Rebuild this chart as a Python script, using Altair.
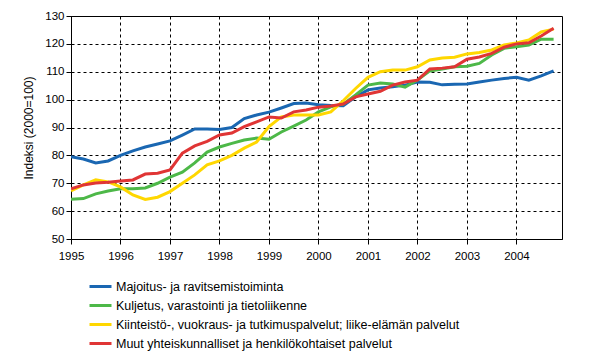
import altair as alt
import pandas as pd

years = [1995 + q * 0.25 for q in range(40)]

series_names = [
    "Majoitus- ja ravitsemistoiminta",
    "Kuljetus, varastointi ja tietoliikenne",
    "Kiinteistö-, vuokraus- ja tutkimuspalvelut; liike-elämän palvelut",
    "Muut yhteiskunnalliset ja henkilökohtaiset palvelut",
]
colors = ["#1a67b2", "#4db848", "#ffd700", "#e03535"]

majoitus = [79.5, 78.7, 77.3, 78.0, 80.0, 81.6, 83.0, 84.1, 85.2, 87.3,
            89.5, 89.5, 89.3, 90.0, 93.2, 94.5, 95.5, 97.0, 98.6, 98.8,
            98.2, 97.9, 97.8, 101.0, 103.5, 104.2, 104.6, 105.2, 106.3, 106.2,
            105.3, 105.5, 105.6, 106.3, 107.0, 107.6, 108.0, 107.0, 108.5, 110.3]
kuljetus = [64.3, 64.5, 66.2, 67.2, 68.0, 68.0, 68.3, 70.0, 72.2, 74.0,
            77.3, 81.2, 83.0, 84.3, 85.5, 86.2, 85.8, 88.4, 90.5, 92.7,
            95.6, 97.4, 98.4, 101.7, 105.2, 106.0, 105.6, 104.5, 107.0, 110.3,
            111.0, 111.8, 112.0, 113.0, 116.0, 118.4, 119.0, 119.6, 121.7, 121.7]
kiinteisto = [67.3, 69.4, 71.2, 70.5, 68.7, 65.8, 64.2, 65.0, 67.0, 70.0,
              73.0, 76.6, 78.0, 80.0, 82.6, 84.8, 90.3, 93.8, 94.5, 94.5,
              94.5, 95.6, 99.6, 104.0, 108.0, 110.0, 110.6, 110.6, 111.8, 114.2,
              114.9, 115.2, 116.4, 116.9, 117.8, 119.6, 120.3, 121.4, 124.3, 125.3]
muut = [68.0, 69.4, 70.1, 70.4, 70.8, 71.2, 73.3, 73.6, 74.8, 80.8,
        83.4, 85.0, 87.3, 88.0, 90.3, 92.0, 93.8, 93.4, 95.6, 96.3,
        97.3, 97.7, 98.4, 101.0, 102.0, 103.0, 105.2, 106.3, 107.0, 111.0,
        111.3, 111.8, 114.5, 115.3, 116.6, 118.8, 120.0, 120.4, 122.8, 125.6]

x_ticks = list(range(1995, 2005))
y_ticks = list(range(50, 131, 10))

rows = []
for name, vals in zip(series_names, [majoitus, kuljetus, kiinteisto, muut]):
    for i, (x, v) in enumerate(zip(years, vals)):
        rows.append({"vuosi": x, "arvo": v, "sarja": name, "order": i})
df = pd.DataFrame(rows)

FONT = "Liberation Sans"

chart = alt.Chart(df).mark_line(strokeWidth=3, clip=True).encode(
    x=alt.X("vuosi:Q",
            scale=alt.Scale(domain=[1995, 2004.92], nice=False, zero=False),
            axis=alt.Axis(values=x_ticks, format="d", title=None,
                          labelFlush=False, labelPadding=6)),
    y=alt.Y("arvo:Q",
            scale=alt.Scale(domain=[50, 130], nice=False, zero=False),
            axis=alt.Axis(values=y_ticks, title="Indeksi (2000=100)",
                          titlePadding=9, labelPadding=2)),
    color=alt.Color("sarja:N",
                    scale=alt.Scale(domain=series_names, range=colors),
                    sort=series_names,
                    legend=alt.Legend(title=None, orient="none",
                                      legendX=17, legendY=258,
                                      symbolType="stroke", symbolSize=484,
                                      symbolStrokeWidth=3, labelFontSize=12.5,
                                      labelFont=FONT, labelOffset=3,
                                      rowPadding=-7, labelLimit=400)),
    order="order:Q",
).properties(
    width=491, height=223,
    autosize=alt.AutoSizeParams(type="none"),
    padding={"left": 63, "top": 8, "right": 23, "bottom": 113},
).configure_view(
    stroke="black", strokeWidth=1
).configure_axis(
    grid=True, gridColor="black", gridDash=[3, 3], gridOpacity=1, gridWidth=1,
    domainColor="black", tickColor="black", tickSize=5,
    labelFont=FONT, labelFontSize=11.5, labelColor="black",
    titleFont=FONT, titleFontSize=12, titleFontWeight="normal", titleColor="black",
)

chart.save("out.html", embed_options={"renderer": "svg", "actions": False})
